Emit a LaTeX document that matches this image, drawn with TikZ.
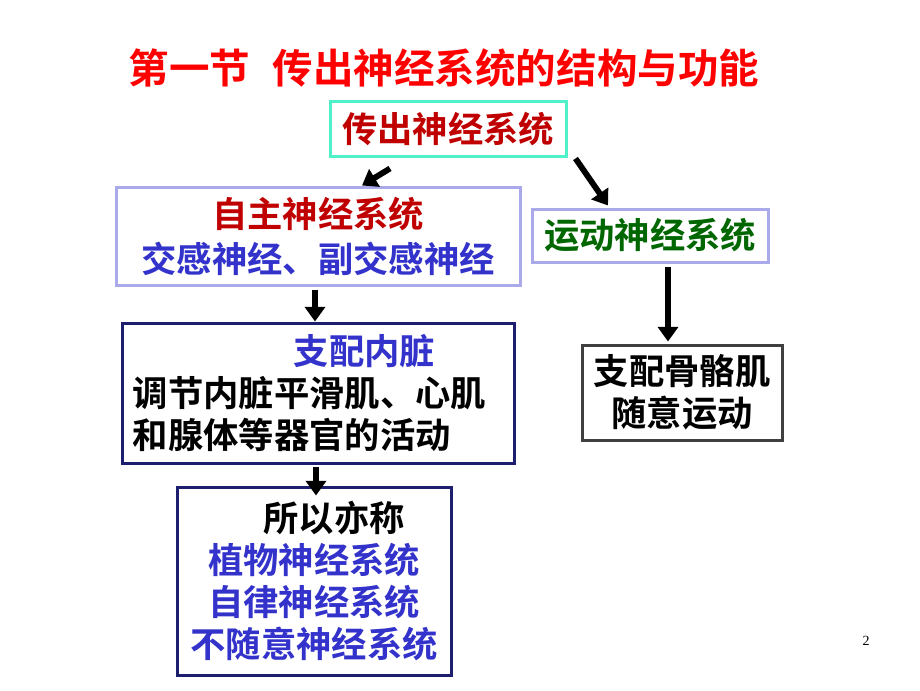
\documentclass[tikz,border=0pt]{standalone}
\usepackage{fontspec}
\setmainfont{Liberation Serif}
\newfontfamily\cjk{Noto Sans CJK SC Bold}
\usetikzlibrary{arrows.meta}
\definecolor{titlered}{RGB}{255,0,0}
\definecolor{boxred}{RGB}{192,0,0}
\definecolor{txtblue}{RGB}{51,51,204}
\definecolor{txtgreen}{RGB}{0,102,0}
\definecolor{bcyan}{RGB}{80,240,200}
\definecolor{bpurple}{RGB}{170,170,235}
\definecolor{bnavy}{RGB}{30,30,110}
\definecolor{bgray}{RGB}{64,64,64}
\tikzset{
  box/.style={draw, line width=2.25pt, fill=white, inner sep=0pt, align=center, font=\cjk\fontsize{26.5pt}{31.5pt}\selectfont},
  arr/.style={line width=4.4pt, -{Triangle[width=15pt,length=11pt]}},
}
\begin{document}
\begin{tikzpicture}[x=0.75pt,y=-0.75pt]
\useasboundingbox[fill=white] (0,0) rectangle (920,690);
\node[font=\cjk\fontsize{30.4pt}{34pt}\selectfont, text=titlered] (title) at (444,68) {第一节\hspace{0.55em}传出神经系统的结构与功能};
\node[box, draw=bcyan, text=boxred, minimum width=177pt, minimum height=41.25pt] (b1) at (448,128.5) {传出神经系统};
\node[box, draw=bpurple, minimum width=303pt, minimum height=73.5pt, font=\cjk\fontsize{26.5pt}{33.75pt}\selectfont] (b2) at (318,236) {\textcolor{boxred}{自主神经系统}\\\textcolor{txtblue}{交感神经、副交感神经}};
\node[box, draw=bpurple, text=txtgreen, minimum width=177pt, minimum height=39.75pt] (b3) at (650,235.5) {运动神经系统};
\node[box, draw=bnavy, align=left, minimum width=294pt, minimum height=105pt] (b4) at (318,393) {\hspace*{120.75pt}\textcolor{txtblue}{支配内脏}\\调节内脏平滑肌、心肌\hspace*{12.75pt}\mbox{}\\和腺体等器官的活动};
\node[box, draw=bgray, minimum width=150pt, minimum height=71.25pt] (b5) at (682,392.5) {支配骨骼肌\\随意运动};
\node[box, draw=bnavy, minimum width=205.5pt, minimum height=141pt] (b6) at (314,581) {\hspace*{30pt}所以亦称\\\textcolor{txtblue}{植物神经系统}\\\textcolor{txtblue}{自律神经系统}\\\textcolor{txtblue}{不随意神经系统}};
\draw[arr] ([shift={(-58,11)}]b1.south) -- ([shift={(44,0)}]b2.north);
\draw[arr] ([shift={(8,1)}]b1.south east) -- ([shift={(-42,-2)}]b3.north);
\draw[arr] ([shift={(-3,3)}]b2.south) -- ([shift={(-3,0)}]b4.north);
\draw[arr] ([shift={(18,3)}]b3.south) -- ([shift={(-14,-2)}]b5.north);
\draw[arr] ([shift={(-2,2)}]b4.south) -- ([shift={(2,10)}]b6.north);
\node[font=\fontsize{10.5pt}{12pt}\selectfont] (pg) at (866,641) {2};
\end{tikzpicture}
\end{document}
